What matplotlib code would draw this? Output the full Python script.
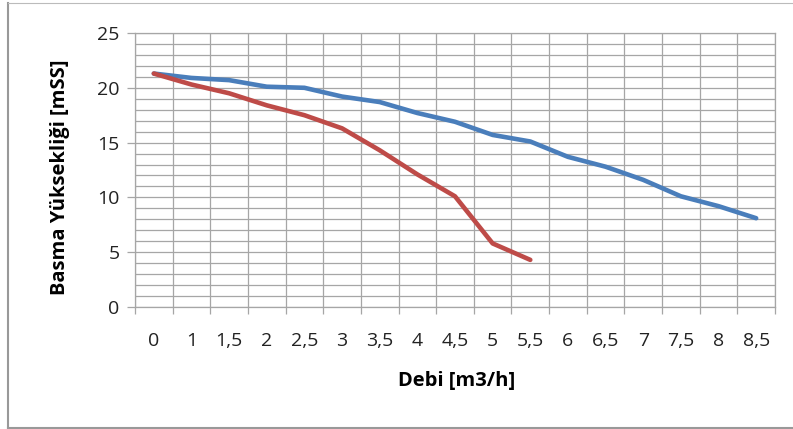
import numpy as np
import matplotlib
matplotlib.use('Agg')
import matplotlib.pyplot as plt
from matplotlib.lines import Line2D

plt.rcParams['font.family'] = ['Open Sans', 'DejaVu Sans']

# x kategorileri (debi)
debi = ['0', '1', '1,5', '2', '2,5', '3', '3,5', '4', '4,5', '5', '5,5',
        '6', '6,5', '7', '7,5', '8', '8,5']
# mavi seri
seri_mavi = [21.3, 20.9, 20.7, 20.1, 20.0, 19.2, 18.7, 17.7, 16.9, 15.7, 15.1,
             13.7, 12.8, 11.6, 10.1, 9.2, 8.1]
# kırmızı seri
seri_kirmizi = [21.3, 20.3, 19.5, 18.4, 17.5, 16.3, 14.3, 12.1, 10.1, 5.8, 4.3]

W, H = 793, 429
fig = plt.figure(figsize=(W / 100, H / 100), dpi=100)
ax = fig.add_axes([135 / W, 1 - 307 / H, 640 / W, 274 / H])

x = np.arange(len(debi))
ax.plot(x, seri_mavi, color='#4a7ebb', lw=3.3, solid_capstyle='round', zorder=3)
ax.plot(x[:len(seri_kirmizi)], seri_kirmizi, color='#be4b48', lw=3.3,
        solid_capstyle='round', zorder=3)

ax.set_xlim(-0.5, len(debi) - 0.5)
ax.set_ylim(0, 25)

gc = '#a6a6a6'
ax.set_xticks(x)
ax.set_xticklabels(debi)
ax.set_xticks(np.arange(len(debi) + 1) - 0.5, minor=True)
ax.set_yticks(np.arange(0, 26, 5))
ax.set_yticks(np.arange(0, 26, 1), minor=True)

ax.tick_params(axis='x', which='major', length=0, pad=18, labelsize=14, colors='#222222')
ax.tick_params(axis='x', which='minor', length=5, color=gc, width=0.9)
ax.tick_params(axis='y', which='major', length=6, width=0.9, pad=5,
               labelsize=14, colors='#222222')
ax.tick_params(axis='y', which='major', color=gc)
ax.tick_params(axis='y', which='minor', length=0)

ax.grid(True, which='minor', axis='x', color=gc, lw=0.9)
ax.grid(True, which='both', axis='y', color=gc, lw=0.9)
ax.set_axisbelow(True)
for s in ax.spines.values():
    s.set_color(gc)
    s.set_linewidth(0.9)

ax.set_xlabel('Debi [m3/h]', fontsize=14.5, fontweight='bold')
ax.set_ylabel('Basma Yüksekliği [mSS]', fontsize=14.5, fontweight='bold')
ax.xaxis.set_label_coords(0.503, -0.232)
ax.yaxis.set_label_coords(-0.102, 0.474)

# grafik çerçevesi
fig.add_artist(Line2D([8 / W, 8 / W], [1 - 3 / H, 1 - 428 / H], color='#999999', lw=1.5))
fig.add_artist(Line2D([8 / W, 1], [1 - 3 / H, 1 - 3 / H], color='#bbbbbb', lw=0.8))
fig.add_artist(Line2D([8 / W, 1], [1 - 428 / H, 1 - 428 / H], color='#999999', lw=1.5))

fig.savefig('out.png', dpi=100)
